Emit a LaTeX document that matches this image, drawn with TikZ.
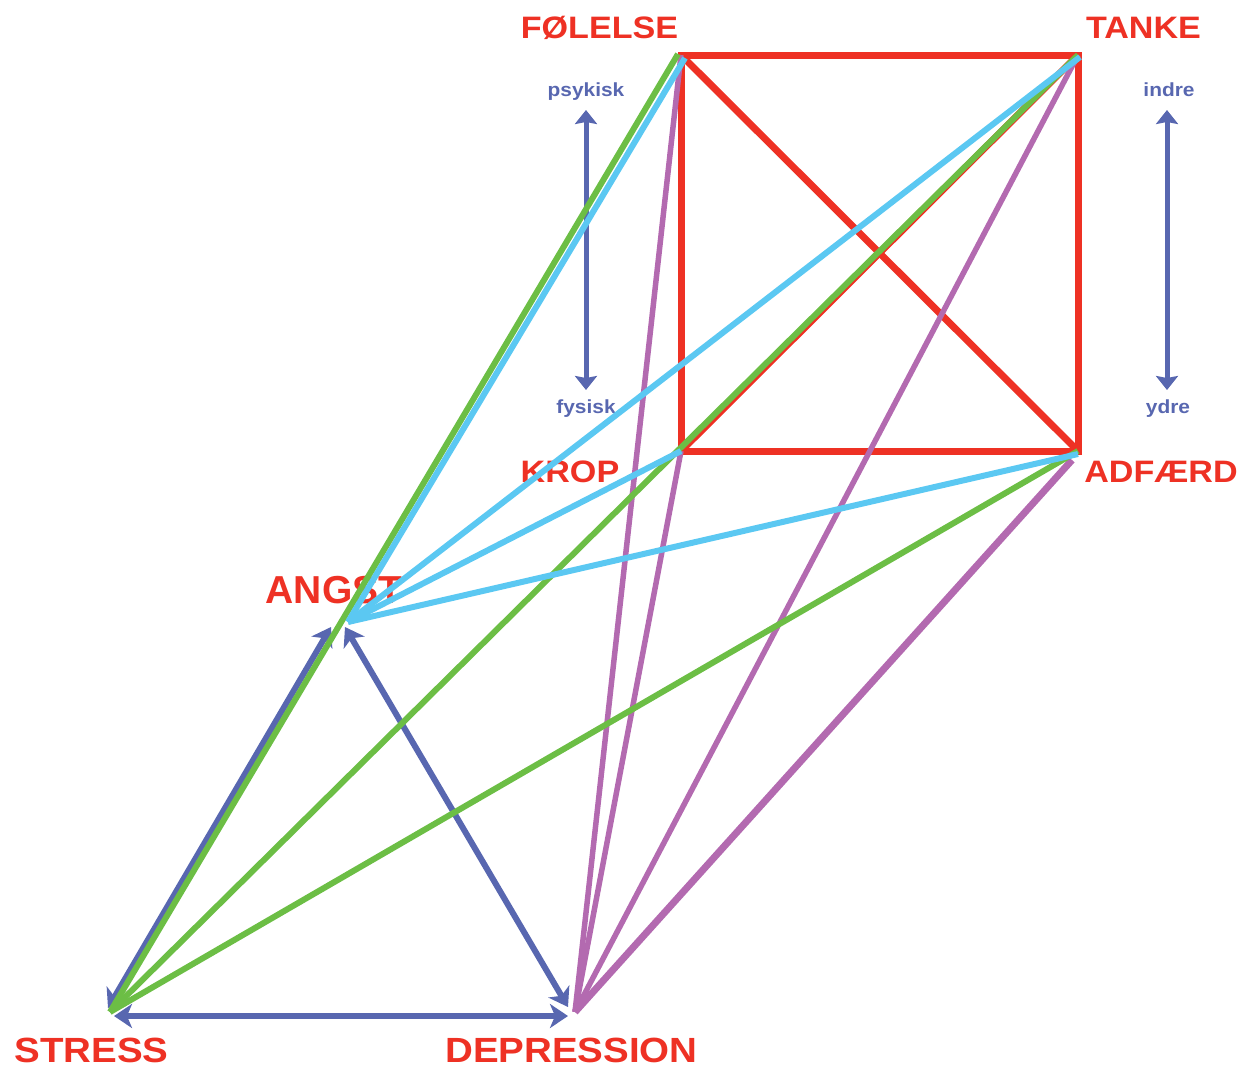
\documentclass[tikz,border=0pt]{standalone}
\usepackage{fontspec}
\usepackage{graphicx}
\setmainfont{Liberation Sans}
\usetikzlibrary{arrows.meta}
\definecolor{cred}{HTML}{EE3124}
\definecolor{cgreen}{HTML}{6CBE45}
\definecolor{ccyan}{HTML}{5BC8F2}
\definecolor{cpurple}{HTML}{B36AB0}
\definecolor{cblue}{HTML}{5867B0}
\newcommand\widetext[1]{\scalebox{1.1}[1]{#1}}
\tikzset{
  bigword/.style={text=cred, font=\fontsize{31}{31}\selectfont\bfseries, anchor=base, inner sep=0pt},
  hugeword/.style={text=cred, font=\fontsize{35}{35}\selectfont\bfseries, anchor=base, inner sep=0pt},
  smallword/.style={text=cblue, font=\fontsize{19}{19}\selectfont\bfseries, anchor=base, inner sep=0pt},
  redline/.style={draw=cred, line width=7pt, line join=miter},
  greenline/.style={draw=cgreen, line width=6pt},
  cyanline/.style={draw=ccyan, line width=6pt},
  purpleline/.style={draw=cpurple, line width=5.5pt},
  bluearrow/.style={draw=cblue, line width=6pt, {Stealth[length=18pt,width=24pt,inset=5pt]}-{Stealth[length=18pt,width=24pt,inset=5pt]}},
  smallarrow/.style={draw=cblue, line width=5pt, {Stealth[length=14pt,width=22pt,inset=2pt]}-{Stealth[length=14pt,width=22pt,inset=2pt]}}
}
\begin{document}
\begin{tikzpicture}[x=1pt,y=-1pt]
\useasboundingbox (0,0) rectangle (1247,1074);
% corners
\coordinate (F) at (681,55);
\coordinate (T) at (1078,55);
\coordinate (K) at (681,451);
\coordinate (A) at (1078,451);
\coordinate (Fg) at (678,54);
\coordinate (Fc) at (685,58);
\coordinate (Tc) at (1080,57);
\coordinate (Ac) at (1078,454);
\coordinate (Ap) at (1072,460);
\coordinate (G) at (348,622);
\coordinate (S) at (110,1012);
\coordinate (D) at (575,1012);
% arrow endpoints
\coordinate (sa1) at (108,1008);
\coordinate (sa2) at (331,627);
\coordinate (gd1) at (345,627);
\coordinate (gd2) at (568,1007);
\coordinate (sd1) at (114,1016);
\coordinate (sd2) at (568,1016);
\coordinate (p1) at (586,110);
\coordinate (p2) at (586,390);
\coordinate (i1) at (1167,110);
\coordinate (i2) at (1167,390);
% labels
\node[bigword] (lF) at (599.5,38) {\widetext{FØLELSE}};
\node[bigword] (lT) at (1143.5,38) {\widetext{TANKE}};
\node[bigword] (lK) at (570,482) {\widetext{KROP}};
\node[bigword] (lA) at (1161,482) {\widetext{ADFÆRD}};
\node[hugeword, font=\fontsize{39}{39}\selectfont\bfseries] (lG) at (334,603) {ANGST};
\node[hugeword] (lS) at (91.5,1062) {\widetext{STRESS}};
\node[hugeword] (lD) at (571.5,1062) {\widetext{DEPRESSION}};
\node[smallword] (lp) at (586,96) {\widetext{psykisk}};
\node[smallword] (lf) at (586,413) {\widetext{fysisk}};
\node[smallword] (li) at (1169,96) {\widetext{indre}};
\node[smallword] (ly) at (1168,413) {\widetext{ydre}};
% red square
\draw[redline] (F) rectangle (A);
\draw[redline] (F) -- (A);
\draw[redline] (K) -- (T);
% small arrows
\draw[smallarrow] (p1) -- (p2);
\draw[smallarrow] (i1) -- (i2);
% blue arrows
\draw[bluearrow] (sa1) -- (sa2);
\draw[bluearrow] (gd1) -- (gd2);
\draw[bluearrow] (sd1) -- (sd2);
% purple
\draw[purpleline] (D) -- (F);
\draw[purpleline] (D) -- (K);
\draw[purpleline] (D) -- (T);
\draw[purpleline, line width=7pt] (D) -- (Ap);
% green
\draw[greenline] (S) -- (Fg);
\draw[greenline] (S) -- (T);
\draw[greenline] (S) -- (A);
% light blue
\draw[cyanline] (G) -- (Fc);
\draw[cyanline] (G) -- (Tc);
\draw[cyanline] (G) -- (K);
\draw[cyanline] (G) -- (Ac);
\end{tikzpicture}
\end{document}
